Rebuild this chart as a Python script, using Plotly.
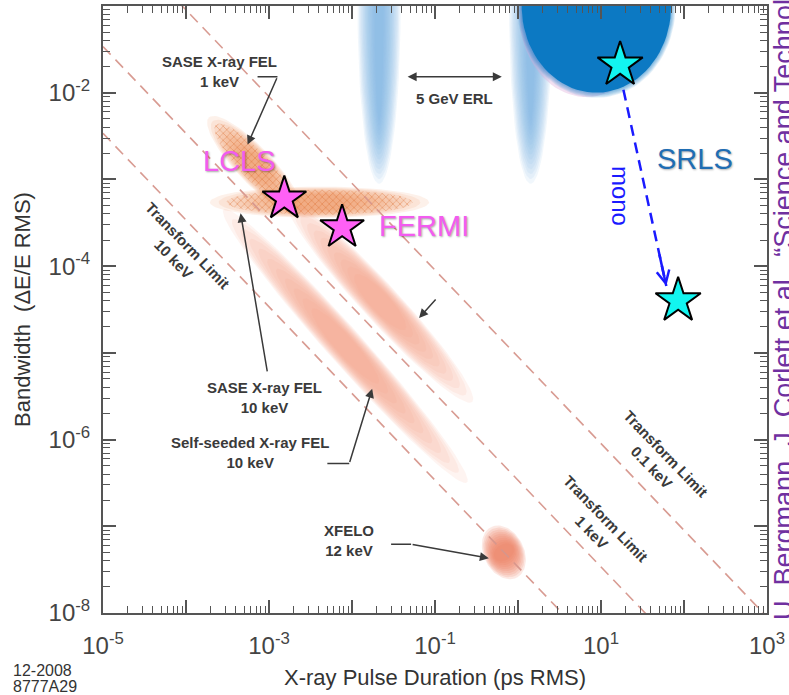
import numpy as np
import plotly.graph_objects as go

# ---------------- data ----------------
x_decades = [1e-5, 1e-4, 1e-3, 1e-2, 1e-1, 1e0, 1e1, 1e2, 1e3]
x_ticktext = ["10<sup>-5</sup>", "", "10<sup>-3</sup>", "", "10<sup>-1</sup>", "", "10<sup>1</sup>", "", "10<sup>3</sup>"]
y_decades = [1e-8, 1e-7, 1e-6, 1e-5, 1e-4, 1e-3, 1e-2, 1e-1]
y_ticktext = ["10<sup>-8</sup>", "", "10<sup>-6</sup>", "", "10<sup>-4</sup>", "", "10<sup>-2</sup>", ""]

# transform limits: (dE/E) * dt  [ps]
tl_names = ["0.1 keV", "1 keV", "10 keV"]
tl_product = [9.0e-6, 3.4e-7, 3.4e-8]

# FEL stars
fel_names = ["LCLS", "FERMI"]
fel_duration = [1.53e-3, 7.6e-3]
fel_bandwidth = [6.0e-4, 2.8e-4]

# storage ring light source (before / after monochromator)
srls_duration = [17.0, 85.0]
srls_bandwidth = [2.1e-2, 4.0e-5]

# FEL regions: centre (ps, dE/E), half-length & half-width (decades), tilt (deg)
region_names = ["SASE 1 keV", "LCLS/FERMI", "SASE 10 keV", "SASE 1 keV long", "XFELO 12 keV"]
region_duration = [6.7e-4, 4.05e-3, 8.3e-3, 2.18e-2, 0.675]
region_bandwidth = [1.45e-3, 5.45e-4, 1.2e-5, 3.85e-5, 5.0e-8]
region_halflen = [0.78, 1.32, 2.15, 1.60, 0.33]
region_halfwid = [0.21, 0.18, 0.21, 0.22, 0.24]
region_tilt = [-45, 0, -47, -46, -60]
region_hatched = [True, True, False, False, False]

# ERL / storage ring regions (hanging from the top edge)
erl_names = ["5 GeV ERL short", "5 GeV ERL long", "Storage ring"]
erl_duration = [0.0212, 1.42, 8.8]
erl_halfwid = [0.26, 0.26, 0.90]
erl_depth = [2.05, 2.05, 1.0]

# footnotes
stamp_lines = ["12-2008", "8777A29"]
citation = "U. Bergmann, J. Corlett et al., \u201cScience and Technology of Future Light Sources\u201d"

# ---------------- helpers ----------------
def ellipse(lx, ly, a, b, ang, n=90):
    t = np.linspace(0, 2 * np.pi, n)
    c, s = np.cos(np.radians(ang)), np.sin(np.radians(ang))
    ex = a * np.cos(t)
    ey = b * np.sin(t)
    X = lx + ex * c - ey * s
    Y = ly + ex * s + ey * c
    return 10 ** X, 10 ** Y


fig = go.Figure()


def fill_trace(xs, ys, color, pattern=None):
    kw = {}
    if pattern is not None:
        kw["fillpattern"] = pattern
    fig.add_trace(go.Scatter(x=xs, y=ys, mode="lines", fill="toself", fillcolor=color,
                             line=dict(width=0), hoverinfo="skip", showlegend=False, **kw))


# ERL teardrops
for i in range(2):
    lx = np.log10(erl_duration[i])
    n = 14
    for k in range(n):
        s = 1.0 - 0.85 * k / n
        xs, ys = ellipse(lx, -1.0, erl_halfwid[i] * s, erl_depth[i] * (0.55 + 0.45 * s), 0)
        fill_trace(xs, ys, "rgba(120,175,228,0.10)")

# storage ring dome
lx = np.log10(erl_duration[2])
xs, ys = ellipse(lx - 0.12, -1.08, erl_halfwid[2] * 0.9, erl_depth[2] * 0.97, 0)
fill_trace(xs, ys, "rgba(220,165,215,0.35)")
for k in range(6):
    s = 1.06 - 0.01 * k
    xs, ys = ellipse(lx, -1.0, erl_halfwid[2] * s, erl_depth[2] * s, 0)
    fill_trace(xs, ys, "rgba(10,122,196,0.10)")
xs, ys = ellipse(lx, -1.0, erl_halfwid[2], erl_depth[2], 0)
fill_trace(xs, ys, "rgb(12,121,195)")

# FEL regions
for i in range(len(region_names)):
    lx = np.log10(region_duration[i])
    ly = np.log10(region_bandwidth[i])
    a, b, ang = region_halflen[i], region_halfwid[i], region_tilt[i]
    if region_hatched[i]:
        rgb = (240, 150, 90)
        n, al = 10, 0.13
    elif i == 4:
        rgb = (236, 125, 95)
        n, al = 10, 0.17
    else:
        rgb = (245, 158, 132)
        n, al = 11, 0.11
    for k in range(n):
        s = 1.0 - 0.8 * k / n
        xs, ys = ellipse(lx, ly, a * s, b * (0.35 + 0.65 * s), ang)
        fill_trace(xs, ys, f"rgba({rgb[0]},{rgb[1]},{rgb[2]},{al})")
    if region_hatched[i]:
        xs, ys = ellipse(lx, ly, a * 0.85, b * 0.8, ang)
        fill_trace(xs, ys, "rgba(0,0,0,0)",
                   pattern=dict(shape="x", size=5, solidity=0.25, fgcolor="rgb(215,100,35)",
                                fgopacity=0.5, bgcolor="rgba(0,0,0,0)"))

# transform limit lines
xl = np.array([1e-5, 1e3])
for i, p in enumerate(tl_product):
    fig.add_trace(go.Scatter(x=xl, y=p / xl, mode="lines",
                             line=dict(color="rgba(214,150,140,0.95)", width=1.6, dash="11px,7px"),
                             hoverinfo="skip", showlegend=False))

# connector polylines (non-arrow segments)
dark = "#3a3a3a"
connectors = [
    ([10 ** -3.138, 10 ** -2.898], [10 ** -1.816, 10 ** -1.816]),
    ([10 ** -2.297, 10 ** -2.033], [10 ** -6.276, 10 ** -6.276]),
    ([10 ** -1.529, 10 ** -1.288], [10 ** -7.207, 10 ** -7.207]),
]
for cx, cy in connectors:
    fig.add_trace(go.Scatter(x=cx, y=cy, mode="lines", line=dict(color=dark, width=1.5),
                             hoverinfo="skip", showlegend=False))

# mono dashed arrow
fig.add_trace(go.Scatter(x=[10 ** 1.270, 10 ** 1.787], y=[10 ** -1.966, 10 ** -4.230], mode="lines",
                         line=dict(color="#1a1aff", width=2.5, dash="11px,7px"),
                         hoverinfo="skip", showlegend=False))

# stars
fig.add_trace(go.Scatter(x=fel_duration, y=fel_bandwidth, mode="markers",
                         marker=dict(symbol="star", size=33, color="#ff60f5",
                                     line=dict(color="black", width=2)),
                         hoverinfo="skip", showlegend=False))
fig.add_trace(go.Scatter(x=srls_duration, y=srls_bandwidth, mode="markers",
                         marker=dict(symbol="star", size=34, color="#12f5f0",
                                     line=dict(color="black", width=2)),
                         hoverinfo="skip", showlegend=False))

# ---------------- annotations ----------------
ann = []
bold = dict(family="Arial, Liberation Sans, sans-serif", size=15, color="#3a3a3a", weight="bold")


def txt(lx, ly, text, font, angle=0, **kw):
    ann.append(dict(x=lx, y=ly, xref="x", yref="y", text=text, showarrow=False,
                    font=font, textangle=angle, **kw))


def arrow(tx, ty, fx, fy, color=dark, width=1.5, head=2, size=1.2, side="end"):
    ann.append(dict(x=tx, y=ty, ax=fx, ay=fy, xref="x", yref="y", axref="x", ayref="y",
                    text="", showarrow=True, arrowhead=head, arrowsize=size, arrowwidth=width,
                    arrowcolor=color, arrowside=side, startarrowhead=head, startarrowsize=size,
                    standoff=0, startstandoff=0))


txt(-3.595, -1.759, "SASE X-ray FEL<br>1 keV", bold)
arrow(-3.258, -2.598, -2.898, -1.816)
txt(-0.760, -2.069, "5 GeV ERL", bold)
arrow(-0.195, -1.816, -1.348, -1.816, side="end+start")
txt(-4.063, -3.839, "Transform Limit<br>10 keV", bold, angle=46)
txt(-3.054, -5.517, "SASE X-ray FEL<br>10 keV", bold)
arrow(-3.342, -3.391, -3.018, -5.230)
txt(-3.234, -6.149, "Self-seeded X-ray FEL<br>10 keV", bold)
arrow(-1.757, -5.414, -2.033, -6.276)
txt(-2.033, -7.161, "XFELO<br>12 keV", bold)
arrow(-0.351, -7.368, -1.288, -7.207)
arrow(-1.192, -4.598, -0.976, -4.368)
txt(0.970, -6.989, "Transform Limit<br>1 keV", bold, angle=46)
txt(1.691, -6.241, "Transform Limit<br>0.1 keV", bold, angle=46)

label_font = dict(family="Arial, Liberation Sans, sans-serif", size=29, color="#f25cf0",
                  shadow="1px 1px 2px rgba(0,0,0,0.35)")
txt(-3.354, -2.793, fel_names[0], label_font)
txt(-1.132, -3.540, fel_names[1], label_font)
txt(2.135, -2.759, "SRLS", dict(family="Arial, Liberation Sans, sans-serif", size=29,
                                color="#1f6db3", shadow="1px 1px 2px rgba(0,0,0,0.3)"))
txt(1.234, -3.195, "mono", dict(family="Arial, Liberation Sans, sans-serif", size=24,
                                color="#1a1aff"), angle=90)
arrow(1.787, -4.230, 1.70, -3.85, color="#1a1aff", width=2.5, head=5, size=1.0)

# paper annotations
for j, line in enumerate(stamp_lines):
    ann.append(dict(x=(11 - 103) / 666, y=(613 - (671 + 16 * j)) / 609, xref="paper", yref="paper",
                    text=line, showarrow=False, xanchor="left", yanchor="middle",
                    font=dict(family="Arial, Liberation Sans, sans-serif", size=16, color="#333")))
ann.append(dict(x=(786 - 103) / 666, y=(613 - 622) / 609, xref="paper", yref="paper",
                text=citation, showarrow=False, textangle=-90, xanchor="center", yanchor="bottom",
                font=dict(family="Arial, Liberation Sans, sans-serif", size=27, color="#7030a0")))

# ---------------- axes ----------------
def minors(decs):
    out = []
    for d in decs[:-1]:
        out += [d * m for m in range(2, 10)]
    return out


axis_common = dict(type="log", showgrid=False, zeroline=False, showline=True, linecolor="#555",
                   linewidth=2, mirror="ticks", ticks="inside", ticklen=13, tickwidth=1.5,
                   tickcolor="#555", tickfont=dict(family="Arial, Liberation Sans, sans-serif",
                                                    size=24, color="#444"))
fig.update_xaxes(range=[-5, 3], tickmode="array", tickvals=x_decades, ticktext=x_ticktext,
                 minor=dict(tickmode="array", tickvals=minors(x_decades), ticks="inside", ticklen=7,
                            tickwidth=1.2, tickcolor="#555", showgrid=False),
                 ticklabelstandoff=10,
                 title=dict(text="X-ray Pulse Duration (ps RMS)", standoff=12,
                            font=dict(family="Arial, Liberation Sans, sans-serif", size=22, color="#333")),
                 **axis_common)
fig.update_yaxes(range=[-8, -1], tickmode="array", tickvals=y_decades, ticktext=y_ticktext,
                 minor=dict(tickmode="array", tickvals=minors(y_decades), ticks="inside", ticklen=7,
                            tickwidth=1.2, tickcolor="#555", showgrid=False),
                 ticklabelstandoff=6,
                 title=dict(text="Bandwidth  (\u0394E/E RMS)", standoff=12,
                            font=dict(family="Arial, Liberation Sans, sans-serif", size=22, color="#333")),
                 **axis_common)

fig.update_layout(width=789, height=695, margin=dict(l=103, r=20, t=4, b=82),
                  plot_bgcolor="white", paper_bgcolor="white", showlegend=False,
                  annotations=ann)

fig.write_html("out.html")
